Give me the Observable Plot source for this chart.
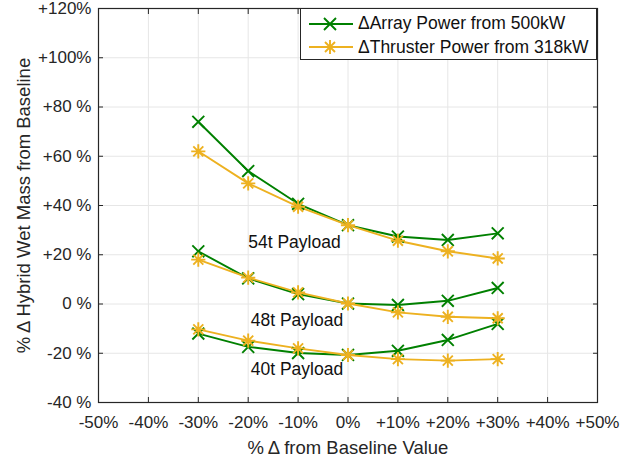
<!DOCTYPE html>
<html>
<head>
<meta charset="utf-8">
<script src="https://cdn.jsdelivr.net/npm/d3@7"></script>
<script src="https://cdn.jsdelivr.net/npm/@observablehq/plot@0.6"></script>
<style>
  body { margin: 0; background: #fff; font-family: "Liberation Sans", Arial, sans-serif; }
  #wrap { position: relative; width: 631px; height: 458px; }
  #legend { position: absolute; left: 300px; top: 8px; width: 297px; height: 52px; border: 1px solid #262626; background: #fff; box-sizing: border-box; font-size: 17.5px; color: #111; }
  #legend .row { position: absolute; left: 7px; height: 20px; display: flex; align-items: center; white-space: nowrap; }
  #legend svg { margin-right: 4px; }
</style>
</head>
<body>
<div id="wrap"></div>
<script>
const xPct = [-30, -20, -10, 0, 10, 20, 30];
const array54 = [74, 54, 40.7, 32, 27.4, 26, 28.7];
const thruster54 = [62, 49, 39.5, 32, 25.7, 21.4, 18.5];
const array48 = [21.4, 10.4, 4, 0.2, -0.4, 1.3, 6.5];
const thruster48 = [18, 10.7, 4.7, 0.2, -3.4, -5.2, -5.8];
const array40 = [-12, -17.4, -19.9, -20.7, -19, -14.6, -8.1];
const thruster40 = [-10.3, -14.9, -18, -20.7, -22.4, -23, -22.4];
const payloadLabels = ["54t Payload", "48t Payload", "40t Payload"];
const labelX = [-20, -19.5, -19.5];
const labelY = [25, -6.5, -26.5];
const xTicks = [-50, -40, -30, -20, -10, 0, 10, 20, 30, 40, 50];
const xTickLabels = ["-50%", "-40%", "-30%", "-20%", "-10%", "0%", "+10%", "+20%", "+30%", "+40%", "+50%"];
const yTicks = [-40, -20, 0, 20, 40, 60, 80, 100, 120];
const yTickLabels = ["-40 %", "-20 %", "0 %", "+20 %", "+40 %", "+60 %", "+80 %", "+100%", "+120%"];
const seriesNames = ["\u0394Array Power from 500kW", "\u0394Thruster Power from 318kW"];
const colors = ["#008000", "#EDB120"];

const green = colors[0], gold = colors[1];
const rows = [];
[[array54, "Array", "54"], [thruster54, "Thruster", "54"], [array48, "Array", "48"], [thruster48, "Thruster", "48"], [array40, "Array", "40"], [thruster40, "Thruster", "40"]]
  .forEach(([vals, s, p]) => vals.forEach((v, i) => rows.push({x: xPct[i], y: v, series: s, payload: p, key: s + p})));
const arr = rows.filter(d => d.series === "Array");
const thr = rows.filter(d => d.series === "Thruster");
const labels = payloadLabels.map((t, i) => ({t, x: labelX[i], y: labelY[i]}));

const asterisk = {
  draw(ctx, size) {
    const r = Math.sqrt(size) / 2;
    const d = r * Math.SQRT1_2;
    ctx.moveTo(0, -r); ctx.lineTo(0, r);
    ctx.moveTo(-r, 0); ctx.lineTo(r, 0);
    ctx.moveTo(-d, -d); ctx.lineTo(d, d);
    ctx.moveTo(-d, d); ctx.lineTo(d, -d);
  }
};
const cross = {
  draw(ctx, size) {
    const r = Math.sqrt(size) / 2 * Math.SQRT1_2;
    ctx.moveTo(-r, -r); ctx.lineTo(r, r);
    ctx.moveTo(-r, r); ctx.lineTo(r, -r);
  }
};

const xfmt = d => xTickLabels[xTicks.indexOf(d)];
const yfmt = d => yTickLabels[yTicks.indexOf(d)];
const axisColor = "#262626";

const chart = Plot.plot({
  width: 631,
  height: 458,
  marginLeft: 98,
  marginRight: 34,
  marginTop: 8,
  marginBottom: 56,
  style: {fontFamily: "Liberation Sans, Arial, sans-serif", fontSize: "17px", color: axisColor, background: "#fff"},
  x: {domain: [-50, 50], ticks: xTicks, label: null},
  y: {domain: [-40, 120], ticks: yTicks, label: null},
  marks: [
    Plot.gridX(xTicks, {stroke: "#e6e6e6", strokeOpacity: 1}),
    Plot.gridY(yTicks, {stroke: "#e6e6e6", strokeOpacity: 1}),
    Plot.axisX(xTicks, {anchor: "bottom", tickSize: 0, tickPadding: 13, tickFormat: xfmt, fill: axisColor, fontSize: 17}),
    Plot.axisY(yTicks, {anchor: "left", tickSize: 0, tickPadding: 7, tickFormat: yfmt, fill: axisColor, fontSize: 17}),
    Plot.axisX(xTicks, {anchor: "bottom", tickSize: -5, text: null, stroke: axisColor}),
    Plot.axisX(xTicks, {anchor: "top", tickSize: -5, text: null, stroke: axisColor}),
    Plot.axisY(yTicks, {anchor: "left", tickSize: -5, text: null, stroke: axisColor}),
    Plot.axisY(yTicks, {anchor: "right", tickSize: -5, text: null, stroke: axisColor}),
    Plot.frame({stroke: axisColor, strokeWidth: 1.2}),
    Plot.line(arr, {x: "x", y: "y", z: "key", stroke: green, strokeWidth: 1.9}),
    Plot.line(thr, {x: "x", y: "y", z: "key", stroke: gold, strokeWidth: 1.9}),
    Plot.dot(arr, {x: "x", y: "y", symbol: cross, r: 9.5, stroke: green, fill: "none", strokeWidth: 1.9}),
    Plot.dot(thr, {x: "x", y: "y", symbol: asterisk, r: 8, stroke: gold, fill: "none", strokeWidth: 1.9}),
    Plot.text(labels, {x: "x", y: "y", text: "t", textAnchor: "start", fill: "#111", fontSize: 17.5}),
    Plot.text(["%\u2009\u0394 from Baseline Value"], {frameAnchor: "bottom", textAnchor: "middle", lineAnchor: "bottom", dy: 51, fill: axisColor, fontSize: 18.5}),
    Plot.text(["%\u2009\u0394 Hybrid Wet Mass from Baseline"], {frameAnchor: "left", textAnchor: "middle", lineAnchor: "middle", dx: -74, rotate: -90, fill: axisColor, fontSize: 18.5})
  ]
});
const wrap = document.getElementById("wrap");
wrap.appendChild(chart);

const legend = document.createElement("div");
legend.id = "legend";
const sym = (i) => i === 0
  ? `<path d="M16,-6 L28,6 M16,6 L28,-6" stroke="${colors[0]}" stroke-width="1.9" fill="none"/>`
  : `<path d="M22,-7 L22,7 M15,0 L29,0 M17,-5 L27,5 M17,5 L27,-5" stroke="${colors[1]}" stroke-width="1.9" fill="none"/>`;
seriesNames.forEach((name, i) => {
  const row = document.createElement("div");
  row.className = "row";
  row.style.top = (i === 0 ? 4.7 : 28.3) + "px";
  row.innerHTML = `<svg width="46" height="18" viewBox="0 -9 46 18"><line x1="1" x2="45" y1="0" y2="0" stroke="${colors[i]}" stroke-width="1.9"/>${sym(i)}</svg><span>${name}</span>`;
  legend.appendChild(row);
});
wrap.appendChild(legend);
</script>
</body>
</html>
